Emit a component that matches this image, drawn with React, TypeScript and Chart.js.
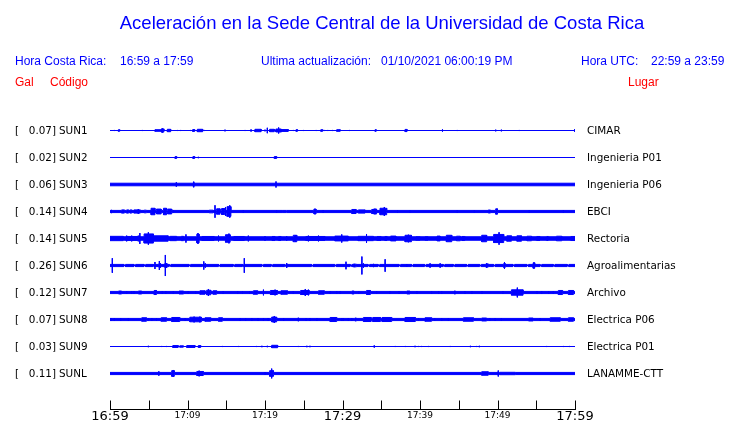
import React, { useEffect, useRef } from "react";
import { Chart, registerables } from "chart.js";

Chart.register(...registerables);

type Burst = [number, number, number]; // [start minute, end minute, half amplitude]
type Spike = [number, number]; // [minute, half amplitude]

const TITLE = "Aceleración en la Sede Central de la Universidad de Costa Rica";
const HORA_CR_LABEL = "Hora Costa Rica:";
const HORA_CR = "16:59 a 17:59";
const ACT_LABEL = "Ultima actualización:";
const ACT_VALUE = "01/10/2021 06:00:19 PM";
const UTC_LABEL = "Hora UTC:";
const UTC_VALUE = "22:59 a 23:59";
const COL_GAL = "Gal";
const COL_CODE = "Código";
const COL_PLACE = "Lugar";

const codes = ["SUN1", "SUN2", "SUN3", "SUN4", "SUN5", "SUN6", "SUN7", "SUN8", "SUN9", "SUNL"];
const galMax = [0.07, 0.02, 0.06, 0.14, 0.14, 0.26, 0.12, 0.07, 0.03, 0.11];
const places = [
  "CIMAR",
  "Ingenieria P01",
  "Ingenieria P06",
  "EBCI",
  "Rectoria",
  "Agroalimentarias",
  "Archivo",
  "Electrica P06",
  "Electrica P01",
  "LANAMME-CTT",
];
// background noise half amplitude of each trace
const baseLevel = [0, 0, 0.48, 0.4, 0.65, 0.4, 0.4, 0.4, 0, 0.4];

const tickMinutes = [0, 5, 10, 15, 20, 25, 30, 35, 40, 45, 50, 55, 60];
const tickLabels = ["16:59", "", "17:09", "", "17:19", "", "17:29", "", "17:39", "", "17:49", "", "17:59"];
const bigTickLabels = ["16:59", "17:29", "17:59"];

const sun1Bursts: Burst[] = [
  [1.08, 1.25, 0.3], [5.8, 6.6, 0.3], [6.65, 6.95, 0.6], [7.4, 7.83, 0.45], [10.67, 10.92, 0.35],
  [11.27, 11.96, 0.45], [18.7, 19.5, 0.45], [20.6, 21.2, 0.45], [21.4, 22.1, 0.55], [22.15, 23.0, 0.35],
  [24.0, 24.2, 0.3], [27.2, 27.45, 0.3], [29.25, 29.7, 0.3], [34.2, 34.35, 0.3], [38.07, 38.33, 0.4],
];
const sun1Spikes: Spike[] = [
  [0.56, 0.2], [4.17, 0.2], [6.75, 0.8], [8.69, 0.2], [9.12, 0.2], [10.4, 0.2], [12.17, 0.2], [13.03, 0.15],
  [13.98, 0.15], [14.84, 0.3], [16.77, 0.15], [17.42, 0.2], [18.2, 0.4], [20.0, 0.3], [20.3, 1.0], [21.76, 1.1],
  [23.65, 0.2], [24.95, 0.2], [26.6, 0.2], [27.7, 0.2], [28.1, 0.2], [28.7, 0.2], [30.9, 0.2], [42.9, 0.4],
  [44.8, 0.2], [49.77, 0.3], [50.5, 0.3], [52.8, 0.2], [59.95, 0.45],
];

const sun2Bursts: Burst[] = [[8.4, 8.6, 0.35], [10.7, 10.92, 0.35], [21.2, 21.5, 0.35]];
const sun2Spikes: Spike[] = [[11.4, 0.25]];

const sun3Bursts: Burst[] = [[10.7, 10.9, 0.6]];
const sun3Spikes: Spike[] = [[8.56, 0.8], [10.8, 1.05], [21.42, 1.1]];

const sun4Bursts: Burst[] = [
  [1.5, 1.85, 0.6], [2.15, 2.4, 0.6], [2.6, 2.8, 0.6], [3.1, 3.9, 0.6], [4.4, 4.7, 0.5], [5.3, 5.8, 1.2],
  [6.0, 6.6, 0.9], [6.9, 7.3, 1.2], [7.44, 7.96, 0.9], [12.8, 13.3, 0.5], [13.76, 14.2, 1.0], [14.4, 14.8, 1.1],
  [15.1, 15.6, 1.8], [22.2, 22.8, 0.4], [26.3, 26.6, 0.8], [31.2, 31.75, 0.75], [32.05, 32.9, 0.6],
  [33.77, 34.4, 0.75], [34.84, 35.7, 1.2], [48.8, 49.1, 0.55], [49.77, 50.0, 1.0],
];
const sun4Spikes: Spike[] = [
  [0.2, 0.6], [3.65, 0.9], [8.2, 0.45], [13.55, 2.3], [14.9, 1.67], [15.45, 2.3], [17.2, 0.55], [21.5, 0.45],
  [26.45, 1.05], [27.5, 0.55], [34.1, 1.05], [34.3, 1.05], [35.4, 1.67], [37.1, 0.55], [38.7, 0.35], [44.8, 0.45],
  [47.0, 0.35], [54.1, 0.55], [58.5, 0.55],
];

const sun5Bursts: Burst[] = [
  [0, 1.72, 0.8], [2.0, 3.65, 0.75], [4.4, 5.6, 1.7], [5.6, 7.5, 1.0], [7.75, 8.6, 0.8], [9.2, 9.5, 0.8],
  [11.2, 11.5, 1.6], [11.8, 13.5, 0.75], [14.9, 15.5, 1.4], [15.9, 17.4, 0.75], [20.9, 21.3, 0.75],
  [21.7, 22.1, 0.75], [23.65, 24.1, 1.2], [25.2, 27.75, 0.75], [29.0, 30.75, 0.9], [32.0, 34.0, 0.8],
  [34.4, 35.0, 0.75], [35.4, 35.8, 0.75], [36.2, 36.9, 0.9], [38.07, 38.9, 1.2], [39.4, 40.0, 0.7],
  [40.65, 41.1, 0.7], [42.2, 42.6, 0.9], [43.4, 44.1, 1.2], [44.7, 45.2, 0.85], [45.4, 45.8, 0.75],
  [47.96, 48.6, 1.2], [49.5, 50.8, 1.5], [51.2, 51.8, 1.0], [52.5, 53.1, 1.0], [53.8, 54.4, 0.85],
  [55.0, 55.5, 0.75], [56.3, 56.6, 0.75], [57.6, 58.3, 0.85], [59.4, 60, 0.75],
];
const sun5Spikes: Spike[] = [
  [2.15, 1.05], [2.8, 1.05], [3.65, 1.05], [3.85, 2.0], [4.95, 2.3], [9.8, 1.5], [11.35, 2.0], [14.0, 1.05],
  [15.35, 1.8], [17.85, 1.05], [20.0, 0.8], [22.8, 0.8], [23.95, 1.2], [25.6, 1.05], [26.9, 1.05], [29.9, 1.5],
  [33.1, 1.67], [38.5, 1.4], [50.2, 2.3],
];

const sun6Bursts: Burst[] = [
  [1.8, 2.0, 0], [3.1, 3.3, 0], [4.4, 4.6, 0], [5.6, 5.75, 0], [6.2, 6.6, 0.5], [7.0, 7.4, 0.6], [7.65, 7.85, 0],
  [10.2, 10.4, 0], [11.9, 12.0, 0], [14.0, 14.2, 0], [15.9, 16.1, 0], [17.1, 17.25, 0], [19.6, 19.8, 0],
  [20.8, 21.0, 0], [22.55, 22.7, 0], [26.0, 26.2, 0], [29.0, 29.2, 0], [31.0, 31.2, 0], [31.4, 31.8, 0.5],
  [33.3, 33.5, 0], [34.6, 34.8, 0], [37.3, 37.5, 0], [38.9, 39.1, 0], [40.6, 40.8, 0], [43.0, 43.2, 0],
  [44.3, 44.5, 0], [46.0, 46.2, 0], [47.7, 47.9, 0], [48.5, 48.8, 0.6], [49.5, 49.7, 0], [50.8, 51.0, 0.7],
  [52.0, 52.2, 0], [53.8, 54.0, 0], [54.6, 54.8, 1.0], [55.5, 55.7, 0], [57.2, 57.4, 0], [59.0, 59.2, 0],
];
const sun6Spikes: Spike[] = [
  [0.3, 2.7], [5.8, 1.3], [6.37, 1.67], [6.5, 0.8], [7.14, 3.9], [7.3, 0.9], [12.1, 1.5], [12.3, 0.8],
  [17.33, 2.7], [22.8, 0.9], [30.45, 1.4], [31.5, 0.6], [32.5, 3.3], [32.7, 0.8], [34.0, 0.6], [35.5, 2.3],
  [38.3, 0.5], [41.3, 0.8], [42.6, 0.8], [48.6, 0.8], [50.9, 1.3], [54.7, 1.05],
];

const sun7Bursts: Burst[] = [
  [1.1, 1.5, 0.55], [3.66, 4.1, 0.55], [5.7, 6.0, 0.75], [8.9, 9.5, 0.55], [11.6, 12.26, 0.65],
  [12.47, 13.0, 0.85], [13.3, 13.76, 0.65], [18.5, 19.05, 0.65], [20.7, 21.6, 0.75], [22.06, 22.9, 0.65],
  [24.6, 25.7, 0.75], [26.9, 27.65, 0.65], [31.2, 31.5, 0.55], [33.1, 33.6, 0.75], [38.3, 38.7, 0.55],
  [51.8, 53.3, 1.0], [57.85, 58.4, 0.75], [59.15, 59.8, 0.75],
];
const sun7Spikes: Spike[] = [
  [2.15, 0.55], [2.8, 0.55], [3.1, 0.55], [5.85, 0.9], [6.75, 0.55], [7.2, 0.55], [8.17, 0.55], [10.1, 0.55],
  [11.05, 0.55], [12.7, 1.3], [14.6, 0.55], [16.47, 0.55], [17.1, 0.55], [18.0, 0.55], [19.8, 1.05],
  [21.3, 1.05], [23.65, 0.55], [25.2, 1.3], [25.6, 1.05], [28.4, 0.55], [29.25, 0.55], [29.7, 0.55],
  [32.1, 0.55], [34.4, 0.55], [36.1, 0.55], [37.3, 0.55], [39.6, 0.55], [41.5, 0.55], [42.4, 0.55],
  [42.8, 0.55], [44.5, 0.65], [45.8, 0.55], [46.7, 0.55], [48.0, 0.55], [50.7, 0.55], [52.56, 1.8],
  [55.1, 0.55], [55.7, 0.55], [56.6, 0.55], [57.2, 0.55],
];

const sun8Bursts: Burst[] = [
  [4.1, 4.7, 0.65], [6.6, 7.3, 0.65], [7.96, 9.0, 0.75], [10.3, 11.8, 0.85], [12.26, 13.0, 0.65],
  [14.0, 14.5, 0.65], [20.86, 21.5, 0.9], [28.4, 29.25, 0.75], [31.6, 31.8, 0.55], [32.7, 33.7, 0.75],
  [33.9, 34.9, 0.75], [35.1, 36.35, 0.75], [38.07, 39.4, 0.75], [40.65, 41.5, 0.65], [45.6, 46.9, 0.65],
  [47.96, 48.6, 0.55], [54.0, 54.6, 0.55], [56.8, 58.1, 0.65], [59.15, 59.8, 0.65],
];
const sun8Spikes: Spike[] = [
  [0.13, 0.55], [0.56, 0.55], [1.38, 0.55], [2.37, 0.55], [4.95, 0.55], [5.4, 0.55], [6.0, 0.55], [9.7, 0.55],
  [10.85, 1.05], [11.6, 1.05], [16.8, 0.55], [17.5, 0.55], [18.3, 0.55], [19.1, 0.55], [19.8, 0.55],
  [20.4, 0.55], [21.2, 1.3], [22.4, 0.55], [24.3, 0.65], [25.3, 0.55], [25.8, 0.55], [26.7, 0.55],
  [29.9, 0.55], [30.1, 0.55], [30.75, 0.55], [31.2, 0.55], [39.8, 0.55], [41.9, 0.55], [42.8, 0.55],
  [43.66, 0.55], [49.0, 0.55], [49.7, 0.55], [50.5, 0.55], [55.5, 0.55],
];

const sun9Bursts: Burst[] = [
  [8.1, 8.8, 0.35], [9.0, 9.46, 0.25], [9.9, 10.97, 0.35], [11.4, 11.7, 0.35], [20.86, 21.63, 0.45],
];
const sun9Spikes: Spike[] = [
  [4.95, 0.25], [6.67, 0.2], [7.3, 0.2], [14.5, 0.2], [16.6, 0.2], [18.9, 0.2], [19.6, 0.25], [20.3, 0.25],
  [24.3, 0.2], [25.4, 0.25], [25.8, 0.25], [34.1, 0.4], [36.8, 0.2], [38.1, 0.2], [39.36, 0.25], [39.8, 0.2],
  [40.2, 0.2], [41.1, 0.2], [43.9, 0.2], [46.5, 0.25], [47.3, 0.2], [47.66, 0.25], [56.35, 0.2], [58.5, 0.2],
  [59.3, 0.2],
];

const sunLBursts: Burst[] = [
  [7.96, 8.3, 1.05], [11.2, 12.04, 0.75], [20.6, 21.1, 1.05], [47.96, 48.8, 0.65], [50.3, 52.3, 0.45],
];
const sunLSpikes: Spike[] = [[6.3, 0.8], [8.17, 1.3], [11.5, 1.05], [20.0, 0.55], [20.86, 1.8], [50.1, 1.1]];

const burstsByTrace = [
  sun1Bursts, sun2Bursts, sun3Bursts, sun4Bursts, sun5Bursts,
  sun6Bursts, sun7Bursts, sun8Bursts, sun9Bursts, sunLBursts,
];
const spikesByTrace = [
  sun1Spikes, sun2Spikes, sun3Spikes, sun4Spikes, sun5Spikes,
  sun6Spikes, sun7Spikes, sun8Spikes, sun9Spikes, sunLSpikes,
];

const T_MIN = 0;
const T_MAX = 60;
const TRACE_GAP = 10;
const BLUE = "#0000ff";
const RED = "#ff0000";

function envelope(base: number, bursts: Burst[]) {
  const pts: { x: number; a: number }[] = [{ x: T_MIN, a: base }];
  [...bursts]
    .sort((p, q) => p[0] - q[0])
    .forEach(([t0, t1, a]) => {
      pts.push({ x: t0, a: base }, { x: t0, a }, { x: t1, a }, { x: t1, a: base });
    });
  pts.push({ x: T_MAX, a: base });
  return pts;
}

export default function App() {
  const ref = useRef<HTMLCanvasElement | null>(null);

  useEffect(() => {
    if (!ref.current) return;
    const datasets: any[] = [];
    codes.forEach((_, k) => {
      const c = k * TRACE_GAP;
      const env = envelope(baseLevel[k], burstsByTrace[k]);
      datasets.push({
        data: env.map((p) => ({ x: p.x, y: c - p.a })),
        borderColor: BLUE,
        backgroundColor: BLUE,
        borderWidth: 1,
        pointRadius: 0,
        fill: "+1",
        tension: 0,
      });
      datasets.push({
        data: env.map((p) => ({ x: p.x, y: c + p.a })),
        borderColor: BLUE,
        borderWidth: 1,
        pointRadius: 0,
        fill: false,
        tension: 0,
      });
      const sp: any[] = [];
      spikesByTrace[k].forEach(([t, a]) => {
        sp.push({ x: t, y: c - a }, { x: t, y: c + a }, { x: t, y: null });
      });
      datasets.push({
        data: sp,
        borderColor: BLUE,
        borderWidth: 1,
        pointRadius: 0,
        fill: false,
        spanGaps: false,
        tension: 0,
      });
    });

    const decor = {
      id: "decor",
      afterDraw(chart: any) {
        const ctx = chart.ctx as CanvasRenderingContext2D;
        const xs = chart.scales.x;
        const ys = chart.scales.y;
        ctx.save();
        ctx.textBaseline = "middle";

        ctx.fillStyle = BLUE;
        ctx.font = '18.5px "Liberation Sans", Arial, sans-serif';
        ctx.textAlign = "center";
        ctx.fillText(TITLE, 382, 23.5);

        ctx.font = '12px "Liberation Sans", Arial, sans-serif';
        ctx.textAlign = "left";
        ctx.fillText(HORA_CR_LABEL, 15, 62);
        ctx.fillText(HORA_CR, 120, 62);
        ctx.fillText(ACT_LABEL, 261, 62);
        ctx.fillText(ACT_VALUE, 381, 62);
        ctx.fillText(UTC_LABEL, 581, 62);
        ctx.fillText(UTC_VALUE, 651, 62);

        ctx.fillStyle = RED;
        ctx.fillText(COL_GAL, 15, 83);
        ctx.fillText(COL_CODE, 50, 83);
        ctx.fillText(COL_PLACE, 628, 83);

        ctx.fillStyle = "#000";
        ctx.font = '10.4px "DejaVu Sans", sans-serif';
        codes.forEach((code, k) => {
          const y = ys.getPixelForValue(k * TRACE_GAP) + 0.7;
          ctx.textAlign = "left";
          ctx.fillText("[", 15, y);
          ctx.textAlign = "right";
          ctx.fillText(galMax[k].toFixed(2) + "]", 56, y);
          ctx.textAlign = "left";
          ctx.fillText(code, 59, y);
          ctx.fillText(places[k], 587, y);
        });

        // time axis
        const axisY = 409.5;
        ctx.strokeStyle = "#000";
        ctx.lineWidth = 1;
        ctx.beginPath();
        ctx.moveTo(Math.round(xs.getPixelForValue(T_MIN)), axisY);
        ctx.lineTo(Math.round(xs.getPixelForValue(T_MAX)) + 1, axisY);
        tickMinutes.forEach((m) => {
          const x = Math.round(xs.getPixelForValue(m)) + 0.5;
          ctx.moveTo(x, axisY);
          ctx.lineTo(x, axisY - 9);
        });
        ctx.stroke();

        ctx.fillStyle = "#000";
        ctx.textAlign = "center";
        tickMinutes.forEach((m, i) => {
          const lab = tickLabels[i];
          if (!lab) return;
          const big = bigTickLabels.includes(lab);
          ctx.font = big ? '13px "DejaVu Sans", sans-serif' : '9px "DejaVu Sans", sans-serif';
          ctx.fillText(lab, xs.getPixelForValue(m), big ? 416.5 : 416);
        });
        ctx.restore();
      },
    };

    const yMin = -12.5 / 2.7;
    const chart = new Chart(ref.current, {
      type: "line",
      data: { datasets },
      options: {
        animation: false,
        responsive: false,
        devicePixelRatio: 1,
        events: [],
        layout: { padding: { left: 110, right: 165, top: 118, bottom: 35 } },
        scales: {
          x: { type: "linear", min: T_MIN, max: T_MAX, display: false },
          y: { type: "linear", min: yMin, max: yMin + 100, reverse: true, display: false },
        },
        plugins: { legend: { display: false }, tooltip: { enabled: false } },
      },
      plugins: [decor],
    });
    return () => chart.destroy();
  }, []);

  return (
    <div style={{ position: "fixed", left: 0, top: 0, width: 740, height: 423, background: "#fff" }}>
      <canvas ref={ref} width={740} height={423} />
    </div>
  );
}
